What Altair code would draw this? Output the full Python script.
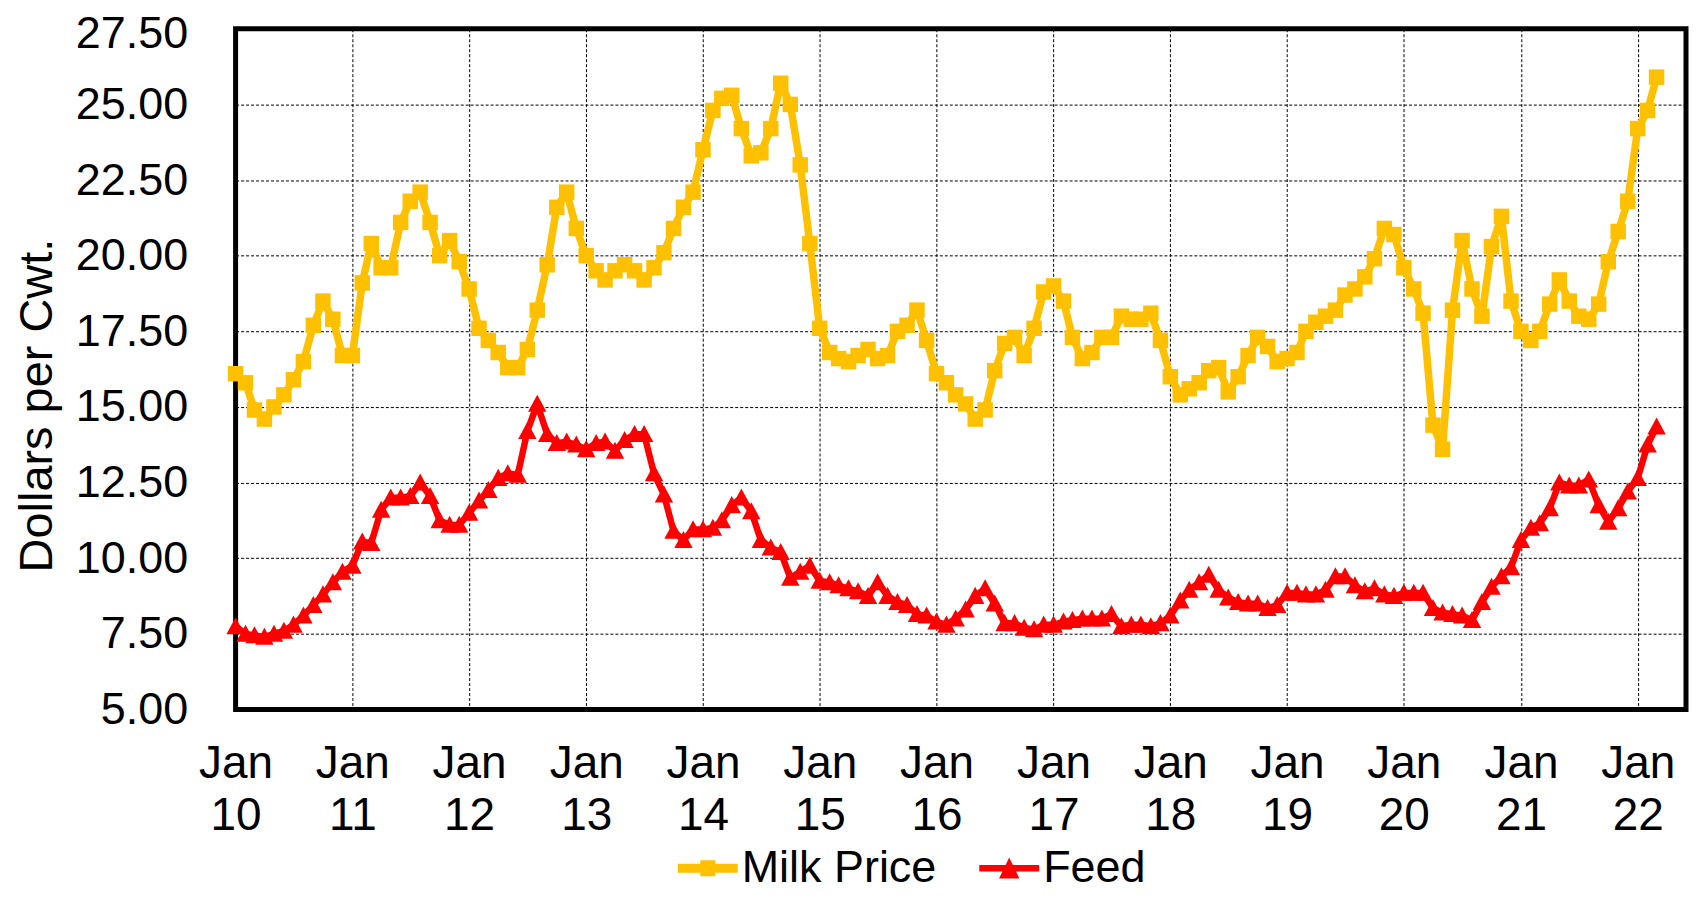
import altair as alt
import pandas as pd

# Monthly values, Jan 2010 - Mar 2022 (dollars per cwt)
milk_price = [
    16.1, 15.8, 14.9, 14.6, 15.0, 15.4, 15.9, 16.5, 17.7, 18.5, 17.9, 16.7,   # 2010
    16.7, 19.1, 20.4, 19.6, 19.6, 21.1, 21.8, 22.1, 21.1, 20.0, 20.5, 19.8,   # 2011
    18.9, 17.6, 17.2, 16.8, 16.3, 16.3, 16.9, 18.2, 19.7, 21.6, 22.1, 20.9,   # 2012
    20.0, 19.5, 19.2, 19.5, 19.7, 19.5, 19.2, 19.6, 20.1, 20.9, 21.6, 22.1,   # 2013
    23.5, 24.8, 25.2, 25.3, 24.2, 23.3, 23.4, 24.2, 25.7, 25.0, 23.0, 20.4,   # 2014
    17.6, 16.8, 16.6, 16.5, 16.7, 16.9, 16.6, 16.7, 17.5, 17.7, 18.2, 17.2,   # 2015
    16.1, 15.8, 15.4, 15.1, 14.6, 14.9, 16.2, 17.1, 17.3, 16.7, 17.6, 18.8,   # 2016
    19.0, 18.5, 17.3, 16.6, 16.8, 17.3, 17.3, 18.0, 17.9, 17.9, 18.1, 17.2,   # 2017
    16.0, 15.4, 15.6, 15.8, 16.2, 16.3, 15.5, 16.0, 16.7, 17.3, 17.0, 16.5,   # 2018
    16.6, 16.8, 17.5, 17.8, 18.0, 18.2, 18.7, 18.9, 19.3, 19.9, 20.9, 20.7,   # 2019
    19.6, 18.9, 18.1, 14.4, 13.6, 18.2, 20.5, 18.9, 18.0, 20.3, 21.3, 18.5,   # 2020
    17.5, 17.2, 17.5, 18.4, 19.2, 18.5, 18.0, 17.9, 18.4, 19.8, 20.8, 21.8,   # 2021
    24.2, 24.8, 25.9,                                                         # 2022
]

feed = [
    7.75, 7.5, 7.45, 7.4, 7.5, 7.6, 7.8, 8.1, 8.45, 8.8, 9.2, 9.55,           # 2010
    9.75, 10.55, 10.5, 11.6, 12.0, 12.0, 12.05, 12.5, 12.05, 11.25, 11.1, 11.1,  # 2011
    11.5, 11.9, 12.25, 12.65, 12.8, 12.75, 14.2, 15.1, 14.1, 13.8, 13.85, 13.75,  # 2012
    13.6, 13.8, 13.85, 13.55, 13.9, 14.1, 14.1, 12.8, 12.1, 10.9, 10.6, 10.95,  # 2013
    10.95, 11.0, 11.25, 11.75, 12.0, 11.55, 10.6, 10.35, 10.2, 9.35, 9.55, 9.75,  # 2014
    9.25, 9.2, 9.1, 9.0, 8.9, 8.75, 9.2, 8.75, 8.55, 8.45, 8.15, 8.1,        # 2015
    7.9, 7.8, 8.0, 8.3, 8.75, 9.0, 8.5, 7.85, 7.85, 7.7, 7.65, 7.8,          # 2016
    7.8, 7.9, 7.95, 8.0, 8.0, 8.0, 8.15, 7.75, 7.8, 7.8, 7.75, 7.85,         # 2017
    8.1, 8.6, 8.95, 9.2, 9.45, 8.95, 8.7, 8.55, 8.5, 8.5, 8.35, 8.45,        # 2018
    8.85, 8.85, 8.8, 8.8, 8.95, 9.4, 9.4, 9.1, 8.9, 9.0, 8.8, 8.75,          # 2019
    8.85, 8.85, 8.85, 8.35, 8.2, 8.15, 8.1, 7.95, 8.55, 9.05, 9.4, 9.7,      # 2020
    10.6, 11.0, 11.15, 11.65, 12.5, 12.4, 12.4, 12.6, 11.75, 11.2, 11.65, 12.2,  # 2021
    12.65, 13.75, 14.35,                                                     # 2022
]

series_names = ["Milk Price", "Feed"]
series_colors = ["#FFC000", "#FF0000"]
y_ticks = [5.0, 7.5, 10.0, 12.5, 15.0, 17.5, 20.0, 22.5, 25.0, 27.5]
tick_years = list(range(2010, 2023))

n = len(milk_price)
months = list(pd.date_range("2010-01-01", periods=n, freq="MS").strftime("%Y-%m-%d"))
df = pd.DataFrame({
    "date": months * 2,
    "series": [series_names[0]] * n + [series_names[1]] * n,
    "value": milk_price + feed,
})

FONT = "Liberation Sans"

x_enc = alt.X(
    "date:T",
    scale=alt.Scale(
        type="utc",
        domain=[alt.DateTime(year=2010, month=1, date=1, utc=True),
                alt.DateTime(year=2022, month=6, date=1, utc=True)],
    ),
    axis=alt.Axis(
        values=[alt.DateTime(year=yr, month=1, date=1, utc=True) for yr in tick_years],
        labelExpr="['Jan', utcFormat(datum.value, '%y')]",
        labelFont=FONT, labelFontSize=46, labelColor="black",
        labelLineHeight=52, labelBaseline="top", labelAlign="center",
        labelPadding=32, labelFlush=False, labelOverlap=False,
        ticks=False, tickSize=0, domain=False,
        grid=True, gridColor="black", gridDash=[3, 2], gridWidth=1, gridOpacity=1,
        title=None,
    ),
)

y_enc = alt.Y(
    "value:Q",
    scale=alt.Scale(domain=[5, 27.5], nice=False, zero=False),
    axis=alt.Axis(
        values=y_ticks, format=".2f",
        labelFont=FONT, labelFontSize=45, labelColor="black", labelPadding=48,
        labelBaseline="middle",
        labelOffset={"condition": {"test": "datum.value >= 27.5", "value": 5}, "value": 0},
        ticks=False, tickSize=0, domain=False,
        grid=True, gridColor="black", gridDash=[3, 2], gridWidth=1, gridOpacity=1,
        title="Dollars per Cwt.", titleFont=FONT, titleFontSize=47,
        titleFontWeight="normal", titleColor="black", titleAngle=270,
        titleAlign="center", titleBaseline="alphabetic", titleX=-184, titleY=377,
    ),
)

color_scale = alt.Scale(domain=series_names, range=series_colors)

lines = alt.Chart(df).mark_line(strokeJoin="round").encode(
    x=x_enc, y=y_enc,
    color=alt.Color("series:N", scale=color_scale, legend=None),
    strokeWidth=alt.StrokeWidth("series:N",
                                scale=alt.Scale(domain=series_names, range=[7.5, 6.5]),
                                legend=None),
    detail="series:N",
)

points = alt.Chart(df).mark_point(filled=True, opacity=1, strokeWidth=0).encode(
    x=x_enc, y=y_enc,
    color=alt.Color("series:N", scale=color_scale, legend=None),
    shape=alt.Shape("series:N",
                    scale=alt.Scale(domain=series_names,
                                    range=["square", "M0,-1L1,0.85L-1,0.85Z"]),
                    legend=None),
    size=alt.Size("series:N", scale=alt.Scale(domain=series_names, range=[240, 340]),
                  legend=None),
)

legend_paths = [
    "M-1,-0.15L1,-0.15L1,0.15L-1,0.15Z M-0.25,-0.27L0.25,-0.27L0.25,0.27L-0.25,0.27Z",
    "M-1,-0.11L1,-0.11L1,0.11L-1,0.11Z M0,-0.36L0.34,0.34L-0.34,0.34Z",
]
legend_cfg = dict(
    title=None, orient="none", legendX=443, legendY=811, direction="horizontal",
    symbolSize=3600, symbolOpacity=1, symbolStrokeWidth=0,
    labelFont=FONT, labelFontSize=45, labelColor="black", labelOffset=4,
    labelLimit=600, columnPadding=42, padding=0,
)

legend_layer = alt.Chart(df).mark_point(filled=True, opacity=0, strokeWidth=0).encode(
    x=x_enc, y=y_enc,
    color=alt.Color("series:N", scale=color_scale, legend=alt.Legend(**legend_cfg)),
    shape=alt.Shape("series:N", scale=alt.Scale(domain=series_names, range=legend_paths),
                    legend=alt.Legend(**legend_cfg)),
)

chart = (
    alt.layer(lines, points, legend_layer)
    .resolve_scale(color="independent", shape="independent")
    .properties(
        width=1453, height=682,
        autosize=alt.AutoSizeParams(type="none"),
        padding={"left": 228, "top": 20, "right": 5, "bottom": 183},
        background="white",
    )
    .configure_view(stroke="black", strokeWidth=5)
)

chart.save("out.html", embed_options={"renderer": "svg", "actions": False})
